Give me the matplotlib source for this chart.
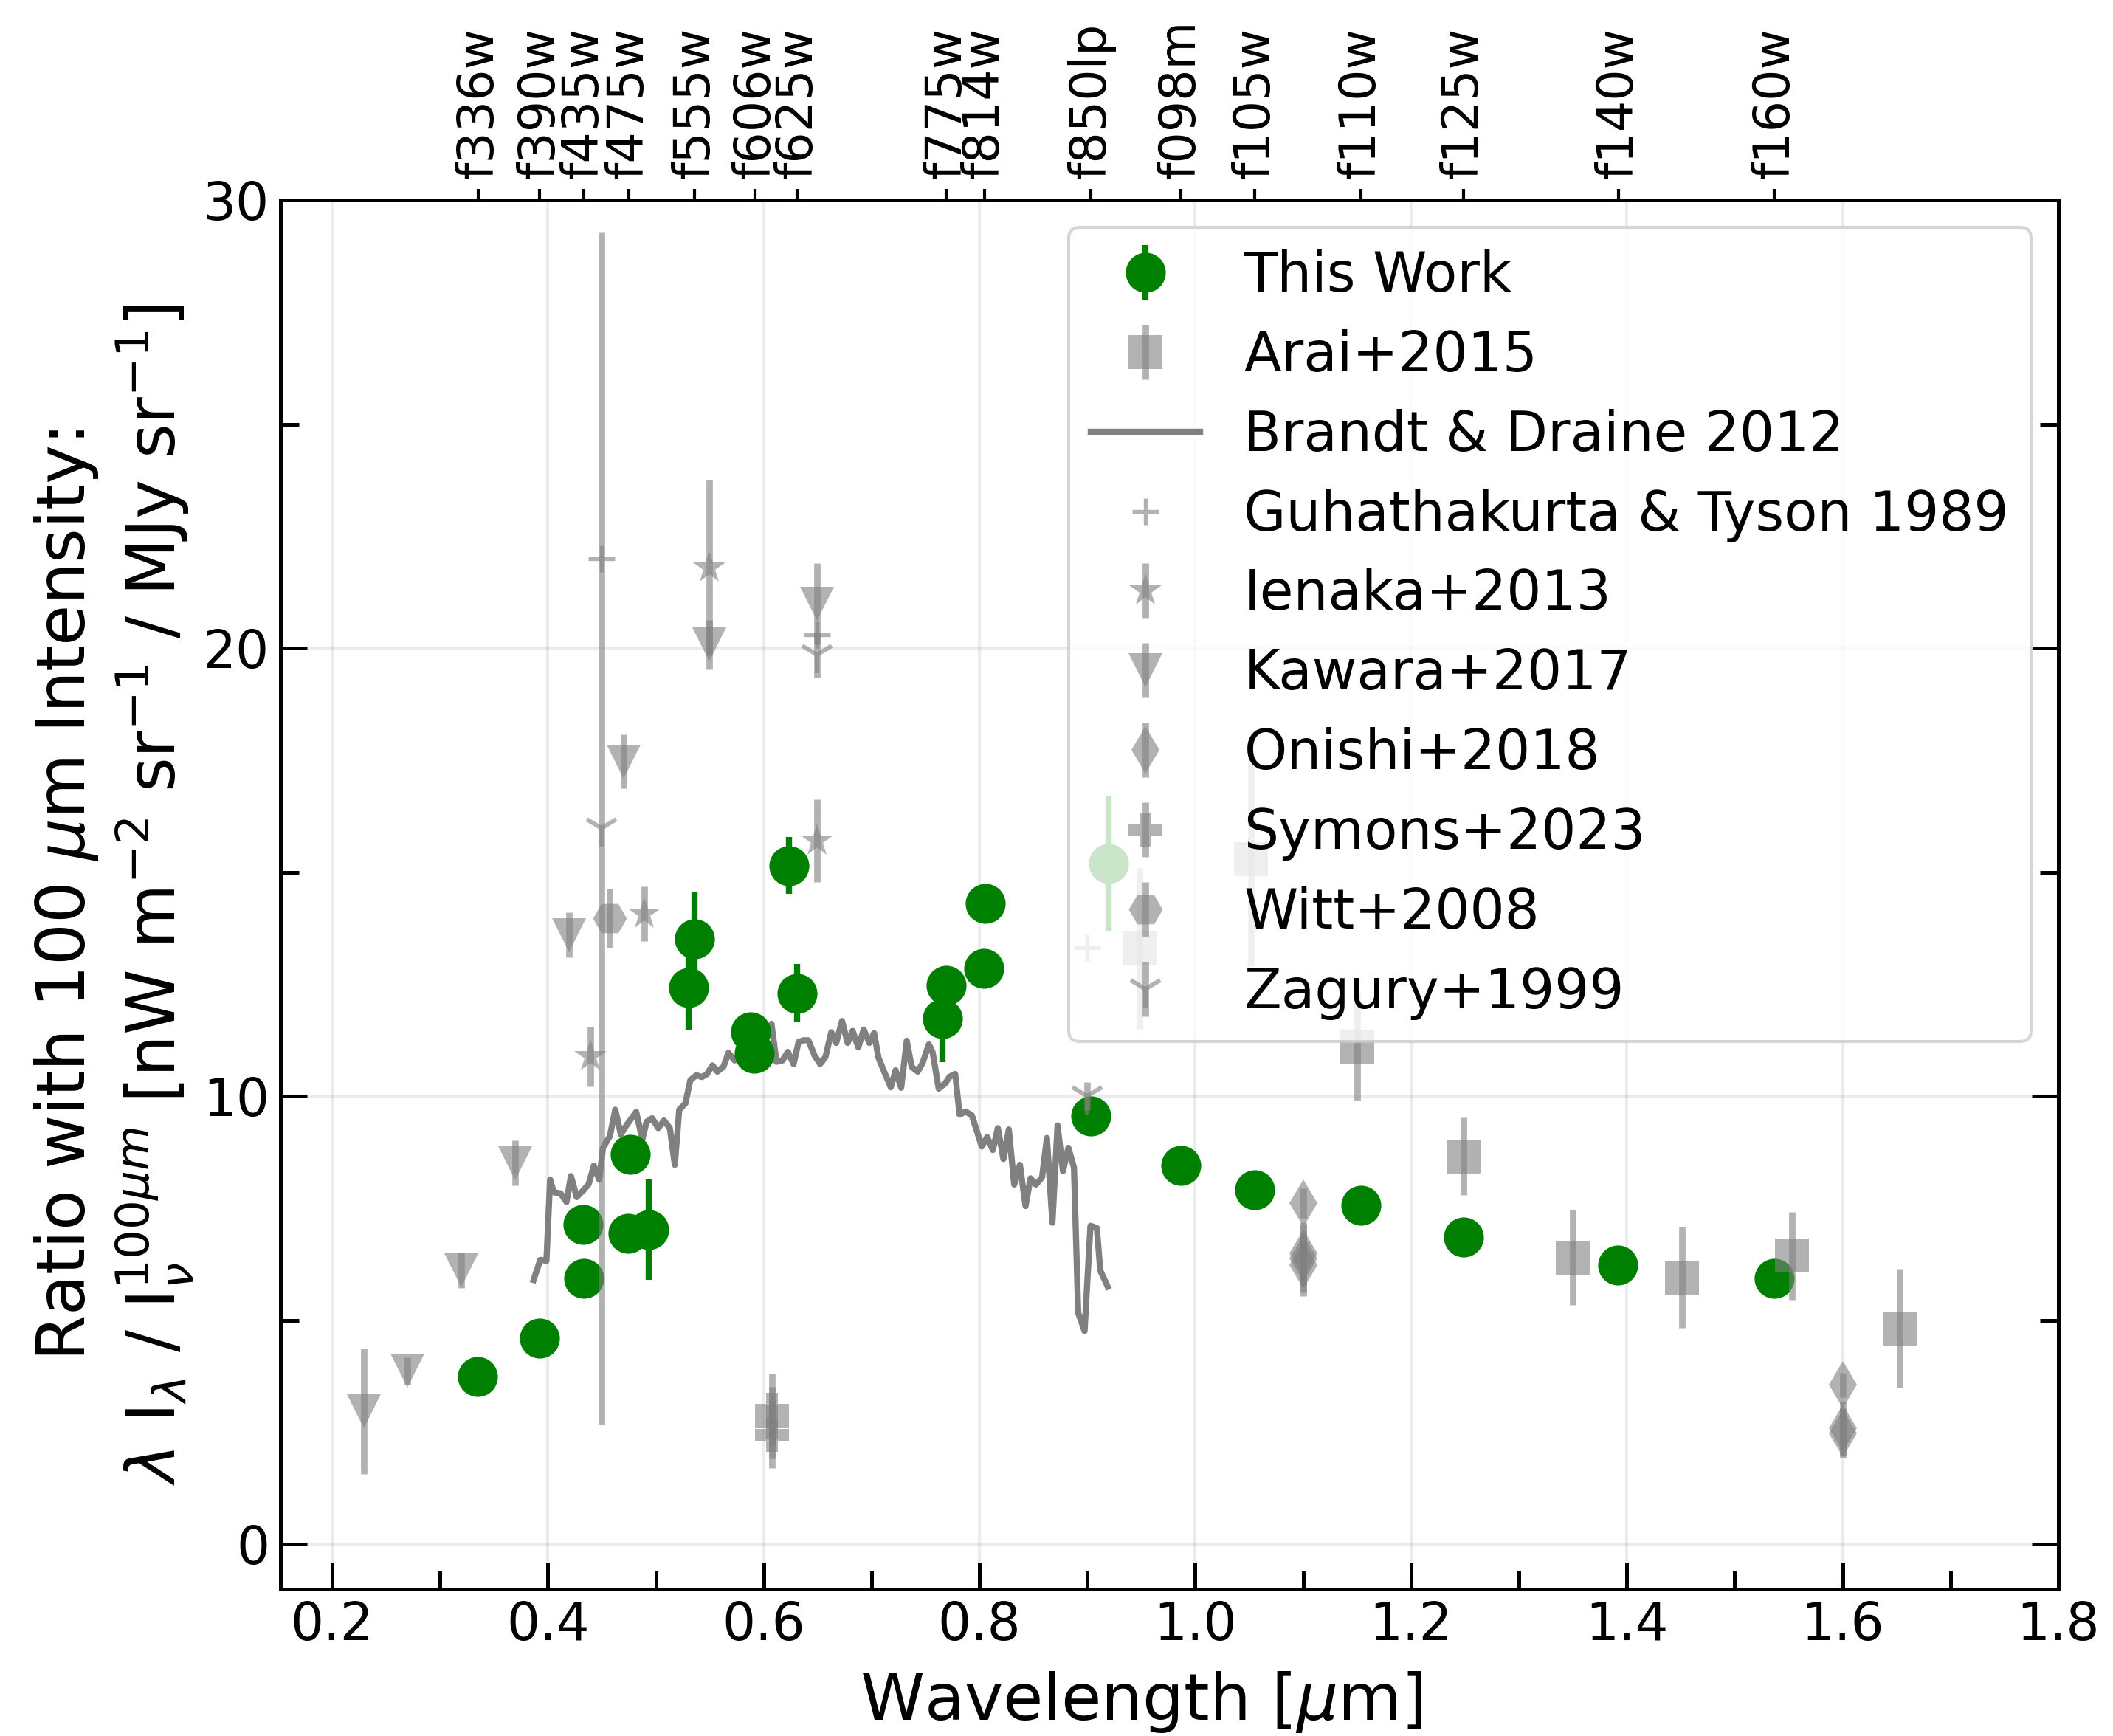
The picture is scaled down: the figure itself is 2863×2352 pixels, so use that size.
import matplotlib
matplotlib.use("Agg")
import matplotlib.pyplot as plt
from matplotlib.ticker import MultipleLocator

# ---- This Work (HST filters) ----
tw_wave = [0.335, 0.392, 0.4324, 0.433, 0.4765, 0.4743, 0.4932, 0.5358, 0.5303,
           0.5878, 0.5915, 0.6237, 0.6308, 0.7693, 0.7654, 0.8051, 0.8042,
           0.9032, 0.9193, 0.9865, 1.0552, 1.1533, 1.2488, 1.392, 1.537]
tw_ratio = [3.75, 4.60, 7.14, 5.94, 8.71, 6.94, 7.02, 13.51, 12.43,
            11.43, 10.96, 15.15, 12.30, 12.47, 11.74, 14.30, 12.86,
            9.56, 15.19, 8.46, 7.92, 7.56, 6.86, 6.23, 5.93]
tw_err = [0.2, 0.2, 0.3, 0.3, 0.3, 0.3, 1.12, 1.06, 0.95,
          0.3, 0.3, 0.64, 0.65, 0.3, 0.97, 0.3, 0.3,
          0.3, 1.52, 0.3, 0.3, 0.3, 0.3, 0.3, 0.3]

# ---- literature ----
arai_wave = [0.9486, 1.0515, 1.150, 1.249, 1.350, 1.4513, 1.5529, 1.653]
arai_ratio = [13.30, 15.30, 11.10, 8.66, 6.40, 5.96, 6.44, 4.82]
arai_err = [1.8, 2.4, 1.2, 0.87, 1.06, 1.13, 0.98, 1.33]

guha_wave = [0.4495, 0.6497, 0.8998]
guha_ratio = [21.99, 20.30, 13.31]

ienaka_wave = [0.4395, 0.4896, 0.5496, 0.6497]
ienaka_ratio = [10.89, 14.07, 21.80, 15.70]
ienaka_err = [0.67, 0.61, 1.96, 0.92]

kawara_wave = [0.2296, 0.2697, 0.3197, 0.3694, 0.4194, 0.4699, 0.5496, 0.6497]
kawara_ratio = [2.97, 3.87, 6.12, 8.51, 13.60, 17.47, 20.08, 20.99]
kawara_err = [1.4, 0.3, 0.4, 0.5, 0.5, 0.6, 0.55, 0.9]

onishi_wave = [1.100, 1.100, 1.100, 1.100, 1.6006, 1.6006, 1.6006]
onishi_ratio = [7.62, 6.49, 6.38, 6.24, 3.56, 2.59, 2.48]
onishi_err = [0.33, 0.7, 0.75, 0.7, 0.27, 0.6, 0.55]

symons_wave = [0.608, 0.608, 0.608]
symons_ratio = [3.01, 2.72, 2.45]
symons_err = [0.8, 0.8, 0.75]

witt_wave = [0.4569]
witt_ratio = [13.97]
witt_err = [0.66]

zagury_wave = [0.4495, 0.6497, 0.900]
zagury_ratio = [15.98, 19.85, 10.0]
zagury_err = [13.3, 0.5, 0.31]

# ---- Brandt & Draine 2012 spectrum ----
bd_wave = [0.3867, 0.3929, 0.3986, 0.4020, 0.4054, 0.4118, 0.4172, 0.4213, 0.4266,
           0.4328, 0.4378, 0.4425, 0.4476, 0.4510, 0.4544, 0.4574, 0.4624, 0.4676,
           0.4727, 0.4818, 0.4875, 0.4914, 0.4966, 0.5023, 0.5075, 0.5130, 0.5176,
           0.5217, 0.5274, 0.5320, 0.5376, 0.5427, 0.5472, 0.5525, 0.5570, 0.5627,
           0.5673, 0.5730, 0.5790, 0.5850, 0.5910, 0.5980, 0.6072, 0.6118, 0.6174,
           0.6224, 0.6277, 0.6323, 0.6368, 0.6414, 0.6471, 0.6523, 0.6573, 0.6626,
           0.6672, 0.6726, 0.6778, 0.6824, 0.6877, 0.6927, 0.6979, 0.7023, 0.7064,
           0.7120, 0.7178, 0.7223, 0.7274, 0.7326, 0.7371, 0.7428, 0.7474, 0.7531,
           0.7565, 0.7622, 0.7679, 0.7725, 0.7775, 0.7816, 0.7873, 0.7930, 0.7971,
           0.8021, 0.8071, 0.8124, 0.8170, 0.8222, 0.8272, 0.8322, 0.8375, 0.8427,
           0.8473, 0.8523, 0.8580, 0.8625, 0.8676, 0.8724, 0.8774, 0.8824, 0.8876,
           0.8915, 0.8974, 0.9029, 0.9088, 0.9120, 0.9189]
bd_ratio = [5.90, 6.35, 6.33, 8.14, 7.86, 7.83, 7.64, 8.22, 7.75,
            7.90, 8.04, 8.45, 8.14, 8.85, 8.99, 9.11, 9.70, 9.15,
            9.35, 9.65, 9.04, 9.43, 9.51, 9.29, 9.46, 9.29, 8.47,
            9.70, 9.84, 10.36, 10.47, 10.43, 10.49, 10.69, 10.55, 10.66,
            10.97, 10.80, 10.95, 11.05, 10.95, 11.10, 11.62, 10.77, 10.80,
            10.99, 10.72, 11.21, 11.25, 11.25, 10.91, 10.72, 10.88, 11.43,
            11.19, 11.68, 11.19, 11.46, 11.09, 11.49, 11.19, 11.41, 10.86,
            10.53, 10.20, 10.58, 10.19, 11.24, 10.66, 10.55, 10.75, 11.16,
            10.99, 10.17, 10.28, 10.44, 10.50, 9.59, 9.66, 9.57, 9.26,
            8.88, 9.09, 8.80, 9.29, 8.60, 9.26, 8.03, 8.47, 7.55,
            8.17, 8.03, 8.19, 9.07, 7.18, 9.35, 8.33, 8.85, 8.41,
            5.17, 4.76, 7.11, 7.06, 6.11, 5.75]

# ---- HST filter pivot wavelengths (top axis) ----
filter_wave = [0.3355, 0.3924, 0.4330, 0.4747, 0.5360, 0.5922, 0.6311, 0.7693,
               0.8045, 0.9033, 0.9864, 1.0552, 1.1534, 1.2486, 1.3923, 1.5369]
filter_names = ["f336w", "f390w", "f435w", "f475w", "f555w", "f606w", "f625w",
                "f775w", "f814w", "f850lp", "f098m", "f105w", "f110w", "f125w",
                "f140w", "f160w"]

W, H, DPI = 2863, 2352, 300
fig = plt.figure(figsize=(W / DPI, H / DPI), dpi=DPI)
ax = fig.add_axes([0.1327, 0.0846, 0.8414, 0.8001])

gray_kw = dict(color="gray", alpha=0.6, linestyle="none", capsize=0, elinewidth=2.1)

bd_line, = ax.plot(bd_wave, bd_ratio, color="gray", lw=2.0, zorder=2,
                   label="Brandt & Draine 2012")
tw = ax.errorbar(tw_wave, tw_ratio, yerr=tw_err, fmt="o", color="green", ms=13,
                 mew=0, elinewidth=2.0, capsize=0, zorder=3, label="This Work")
arai = ax.errorbar(arai_wave, arai_ratio, yerr=arai_err, marker="s", ms=11, mew=0,
                   zorder=4, label="Arai+2015", **gray_kw)
guha, = ax.plot(guha_wave, guha_ratio, linestyle="none", marker="+", ms=8.5, mew=1.3,
                color="gray", alpha=0.6, zorder=4, label="Guhathakurta & Tyson 1989")
ien = ax.errorbar(ienaka_wave, ienaka_ratio, yerr=ienaka_err, marker="*", ms=11, mew=0,
                  zorder=4, label="Ienaka+2013", **gray_kw)
kaw = ax.errorbar(kawara_wave, kawara_ratio, yerr=kawara_err, marker="v", ms=11, mew=0,
                  zorder=4, label="Kawara+2017", **gray_kw)
oni = ax.errorbar(onishi_wave, onishi_ratio, yerr=onishi_err, marker="d", ms=11, mew=0,
                  zorder=4, label="Onishi+2018", **gray_kw)
sym = ax.errorbar(symons_wave, symons_ratio, yerr=symons_err, marker="P", ms=11, mew=0,
                  zorder=4, label="Symons+2023", **gray_kw)
witt = ax.errorbar(witt_wave, witt_ratio, yerr=witt_err, marker="H", ms=11, mew=0,
                   zorder=4, label="Witt+2008", **gray_kw)
zag = ax.errorbar(zagury_wave, zagury_ratio, yerr=zagury_err, marker="1", ms=12, mew=1.4,
                  zorder=4, label="Zagury+1999", **gray_kw)

ax.set_xlim(0.152, 1.8)
ax.set_ylim(-1, 30)
ax.xaxis.set_major_locator(MultipleLocator(0.2))
ax.xaxis.set_minor_locator(MultipleLocator(0.1))
ax.yaxis.set_major_locator(MultipleLocator(10))
ax.yaxis.set_minor_locator(MultipleLocator(5))
ax.tick_params(which="both", direction="in", right=True, top=False, width=1.2,
               labelsize=17)
ax.tick_params(which="major", length=8.7)
ax.tick_params(which="minor", length=6)
for sp in ax.spines.values():
    sp.set_linewidth(1.2)
ax.grid(True, which="major", color="0.5", alpha=0.15, lw=1.0)

ax.set_xlabel(r"Wavelength [$\mu$m]", fontsize=21.2, labelpad=6, x=0.484)
ax.set_ylabel("Ratio with 100 $\\mu$m Intensity:\n"
              r"$\lambda$ I$_\lambda$ / I$_\nu^{100\mu m}$ [nW m$^{-2}$ sr$^{-1}$ / MJy sr$^{-1}$]",
              fontsize=21.5, labelpad=2.5)

secax = ax.secondary_xaxis("top")
secax.set_xticks(filter_wave, labels=filter_names, rotation=90, fontsize=16)
secax.tick_params(width=1.0)

handles = [tw, arai, bd_line, guha, ien, kaw, oni, sym, witt, zag]
ax.legend(handles=handles, labels=[h.get_label() for h in handles],
          loc="upper right", fontsize=17.8, labelspacing=0.47)

fig.savefig("out.png", dpi=DPI)
